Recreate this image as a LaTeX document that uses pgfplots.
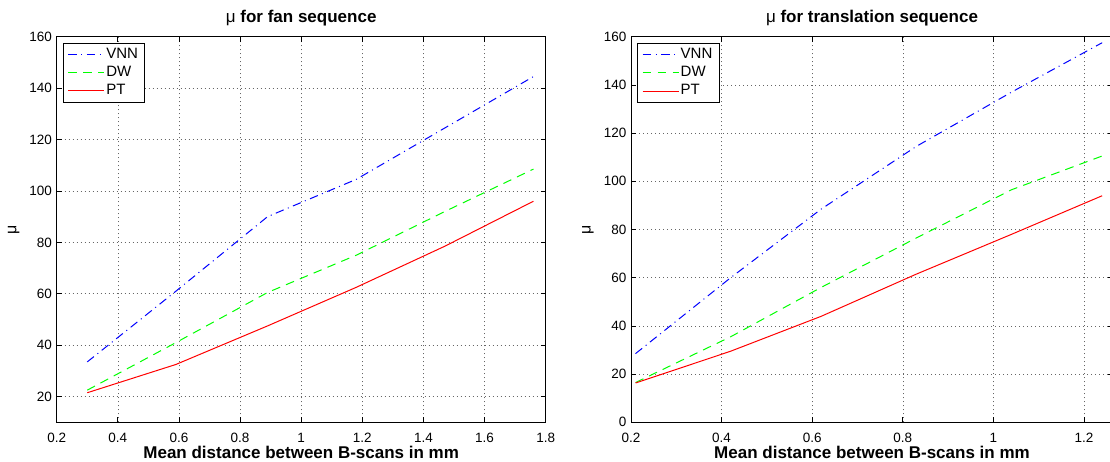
\documentclass[border=0pt]{standalone}
\usepackage{fontspec}
\setmainfont{Liberation Sans}
\usepackage{pgfplots}
\pgfplotsset{compat=1.18}
\definecolor{mblue}{rgb}{0,0,1}
\definecolor{mgreen}{rgb}{0,1,0}
\definecolor{mred}{rgb}{1,0,0}

\pgfplotsset{
  legend image code/.code={\draw[#1] (0pt,0pt) -- (36pt,0pt);},
  mlab/.style={
    scale only axis, height=385.6pt,
    axis line style={line width=0.9pt,black},
    tick align=inside, major tick length=5pt,
    tick style={black,line width=0.7pt},
    grid=major,
    major grid style={black!60,line width=0.6pt,dash pattern=on 1pt off 3pt},
    /pgf/number format/assume math mode=true,
    ticklabel style={font=\fontsize{13.5}{16}\selectfont},
    xticklabel style={anchor=base,yshift=-20pt,inner sep=0pt},
    yticklabel style={anchor=east,xshift=-4.5pt,inner sep=0pt},
    xlabel style={font=\fontsize{17}{20}\selectfont\bfseries,
      at={(axis description cs:0.5,0)},anchor=base,yshift=-35.7pt,inner sep=0pt},
    ylabel style={font=\fontsize{16}{19}\selectfont,
      at={(axis description cs:0,0.5)},anchor=center,yshift=43pt},
    title style={font=\fontsize{17}{20}\selectfont\bfseries,
      at={(axis description cs:0.5,1)},anchor=base,yshift=8.5pt,inner sep=0pt},
    legend style={at={(axis description cs:0,1)},anchor=north west,
      xshift=6pt,yshift=-6.6pt,draw,
      font=\fontsize{15}{18}\selectfont,inner xsep=5pt,inner ysep=2.5pt,
      row sep=0pt,nodes={inner sep=1.5pt,text height=11.2pt,text depth=3.8pt}},
    legend cell align=left,
  },
  vnn/.style={color=mblue,line width=1pt,dash pattern=on 8.5pt off 4.5pt on 1pt off 4.5pt},
  dw/.style={color=mgreen,line width=1pt,dash pattern=on 8.7pt off 6.3pt},
  pt/.style={color=mred,line width=1pt},
}

\begin{document}
\begin{tikzpicture}
\useasboundingbox (0,0) rectangle (1110pt,461pt);

\begin{axis}[mlab, at={(56.7pt,38.7pt)}, anchor=south west, width=489pt,
  xmin=0.2, xmax=1.8, ymin=10, ymax=160,
  xtick={0.2,0.4,0.6,0.8,1,1.2,1.4,1.6,1.8},
  ytick={20,40,60,80,100,120,140,160},
  title={{\mdseries μ} for fan sequence},
  xlabel={Mean distance between B-scans in mm},
  ylabel={μ}]
\addplot[vnn] coordinates {(0.3,33.5) (0.59,61) (0.89,90) (1.18,104.5) (1.47,124.5) (1.76,144.5)};
\addplot[dw] coordinates {(0.3,22.5) (0.59,41) (0.89,60.5) (1.18,75) (1.47,92) (1.76,108.5)};
\addplot[pt] coordinates {(0.3,21.5) (0.59,32.5) (0.89,47.5) (1.18,62.5) (1.47,78.5) (1.76,96)};
\legend{VNN,DW,PT}
\end{axis}

\begin{axis}[mlab, at={(631pt,38.7pt)}, anchor=south west, width=482pt,
  xmin=0.2, xmax=1.264, ymin=0, ymax=160,
  xtick={0.2,0.4,0.6,0.8,1,1.2},
  ytick={0,20,40,60,80,100,120,140,160},
  title={{\mdseries μ} for translation sequence},
  xlabel={Mean distance between B-scans in mm},
  ylabel={μ}]
\addplot[vnn] coordinates {(0.21,28.5) (0.42,60) (0.62,88.5) (0.83,114.5) (1.04,137) (1.24,157.5)};
\addplot[dw] coordinates {(0.21,16.5) (0.42,35.5) (0.62,56) (0.83,76.5) (1.04,96.5) (1.24,110.5)};
\addplot[pt] coordinates {(0.21,16.3) (0.42,29.5) (0.62,44) (0.83,61.5) (1.04,78) (1.24,94)};
\legend{VNN,DW,PT}
\end{axis}
\end{tikzpicture}
\end{document}
